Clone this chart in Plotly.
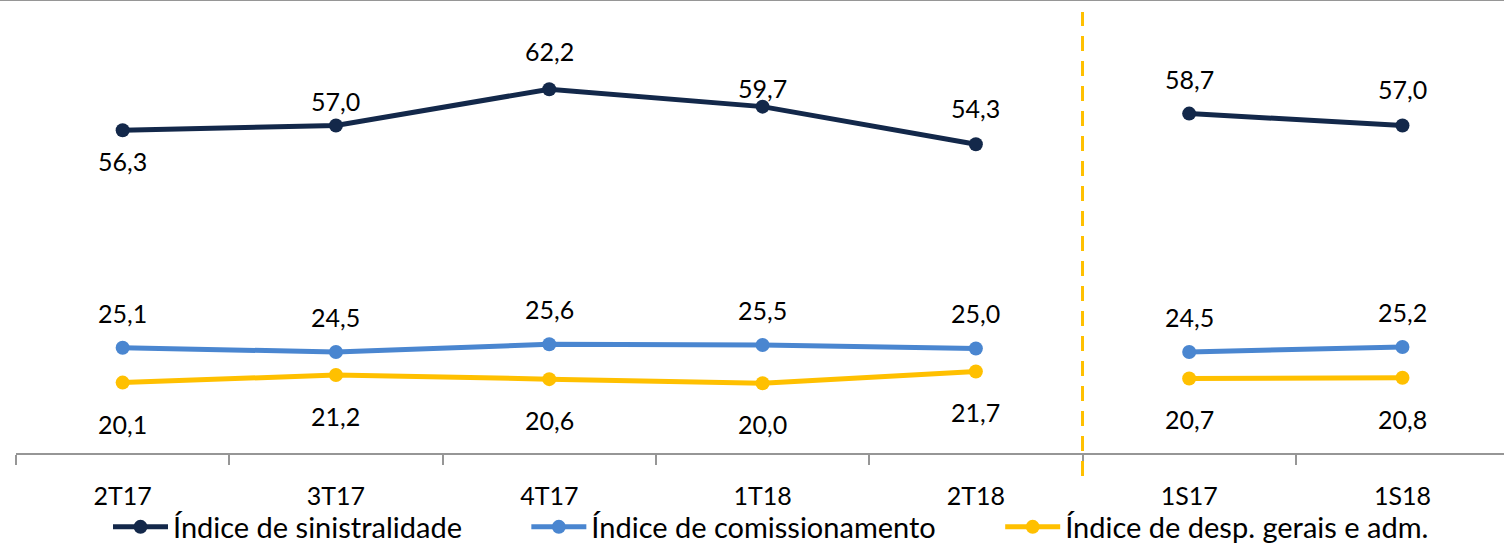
import plotly.graph_objects as go

categories = ["2T17", "3T17", "4T17", "1T18", "2T18", "1S17", "1S18"]
sinistralidade = [56.3, 57.0, 62.2, 59.7, 54.3, 58.7, 57.0]
comissionamento = [25.1, 24.5, 25.6, 25.5, 25.0, 24.5, 25.2]
despesas = [20.1, 21.2, 20.6, 20.0, 21.7, 20.7, 20.8]
series_names = ["Índice de sinistralidade", "Índice de comissionamento",
                "Índice de desp. gerais e adm."]

# style
colors = ["#13284A", "#4A86D0", "#FFC000"]
label_shift = [
    [-31, 24, 38, 19, 36, 35, 36],
    [35] * 7,
    [-41] * 7,
]
split = 5  # quarters | semesters
FONT = "Lato"
LEGEND_PAD = "\u00a0" * 8

def fmt(v):
    return f"{v:.1f}".replace(".", ",")

fig = go.Figure()
annotations = []
for i, (name, vals) in enumerate(zip(series_names, [sinistralidade, comissionamento, despesas])):
    for j, (xs, ys) in enumerate([(categories[:split], vals[:split]), (categories[split:], vals[split:])]):
        fig.add_trace(go.Scatter(
            x=xs, y=ys, mode="lines+markers", name=name + LEGEND_PAD,
            legendgroup=name, showlegend=(j == 0),
            line=dict(color=colors[i], width=5),
            marker=dict(color=colors[i], size=14),
            hoverinfo="skip",
        ))
    for k, (c, v) in enumerate(zip(categories, vals)):
        annotations.append(dict(
            x=c, y=v, xref="x", yref="y", text=fmt(v), showarrow=False,
            yshift=label_shift[i][k], font=dict(family=FONT, size=25, color="#000000"),
        ))

fig.update_layout(
    width=1504, height=546,
    margin=dict(l=16, r=0, t=0, b=93, autoexpand=False),
    paper_bgcolor="white", plot_bgcolor="white",
    font=dict(family=FONT, size=25, color="#000000"),
    annotations=annotations,
    showlegend=True,
    legend=dict(orientation="h", xref="container", yref="container",
                x=108 / 1504, xanchor="left", y=(546 - 527) / 546, yanchor="middle",
                font=dict(family=FONT, size=29, color="#000000"),
                itemwidth=55, tracegroupgap=0, bgcolor="rgba(0,0,0,0)"),
    xaxis=dict(
        type="category", categoryorder="array", categoryarray=categories,
        range=[-0.5, 6.476], showgrid=False, zeroline=False, automargin=False,
        showline=True, linecolor="#969696", linewidth=2,
        ticks="outside", tickson="boundaries", ticklen=10, tickcolor="#969696", tickwidth=2,
        tickfont=dict(family=FONT, size=25, color="#000000"),
        ticklabelstandoff=20,
    ),
    yaxis=dict(range=[10, 75], visible=False, showgrid=False, zeroline=False, automargin=False),
    shapes=[
        dict(type="line", xref="x", yref="paper", x0=4.5, x1=4.5, y0=-0.0508, y1=0.9735,
             line=dict(color="#FFC000", width=3, dash="15px,10px")),
        dict(type="line", xref="paper", yref="paper", x0=-0.02, x1=1.01, y0=1, y1=1,
             line=dict(color="#969696", width=2)),
    ],
)

fig.write_html("out.html", config={"displayModeBar": False},
               post_script="document.body.style.margin='0';document.body.style.overflow='hidden';")
